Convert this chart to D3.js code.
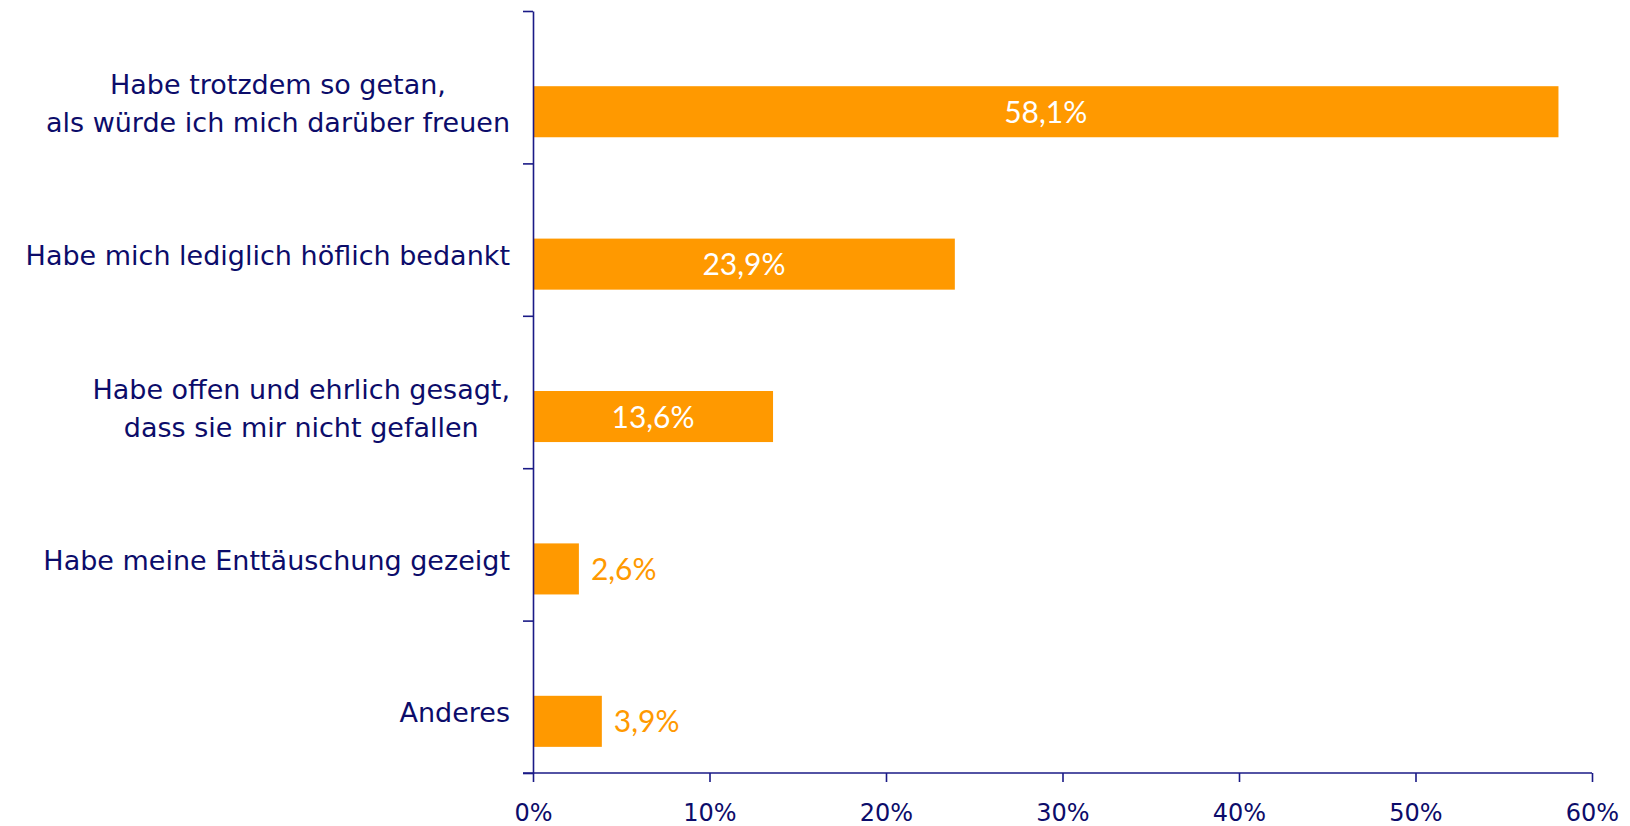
<!DOCTYPE html>
<html>
<head>
<meta charset="utf-8">
<script src="https://cdn.jsdelivr.net/npm/d3@7"></script>
<style>
  body { margin: 0; background: #fff; }
  svg text { font-family: "DejaVu Sans", sans-serif; }
</style>
</head>
<body>
<div id="chart"></div>
<script>
//Chart data
const categories = [
    ["Habe trotzdem so getan,", "als würde ich mich darüber freuen"],
    ["Habe mich lediglich höflich bedankt"],
    ["Habe offen und ehrlich gesagt,", "dass sie mir nicht gefallen"],
    ["Habe meine Enttäuschung gezeigt"],
    ["Anderes"]
];
const values = [58.1, 23.9, 13.6, 2.6, 3.9];
const xTicks = [0, 10, 20, 30, 40, 50, 60];

const navy = "#0c0c6a",
    axisCol = "#1a1a86",
    orange = "#ff9900";

//Set the dimensions and margins of the graph
const margin = {top: 11, right: 38, bottom: 53, left: 533},
    width = 1630 - margin.left - margin.right,
    height = 826 - margin.top - margin.bottom;

const svg = d3.select("#chart")
    .append("svg")
    .attr("width", 1630)
    .attr("height", 826)
    .append("g")
    .attr("transform", `translate(${margin.left}, ${margin.top})`);

//Scales
const x = d3.scaleLinear()
    .domain([0, 60])
    .range([0, width]);

const idx = d3.range(categories.length);
const y = d3.scaleBand()
    .domain(idx)
    .range([0, height]);

//band boundaries for the y axis ticks
const yb = d3.scaleLinear()
    .domain([0, categories.length])
    .range([0, height]);

//Bars sit in the lower half of each band
const barTop = i => y(i) + y.bandwidth() * 0.5 - 1;
const barH = y.bandwidth() * 0.335;

svg.selectAll(".bar")
    .data(values)
    .join("rect")
    .attr("class", "bar")
    .attr("x", x(0))
    .attr("y", (d, i) => barTop(i))
    .attr("width", d => x(d) - x(0))
    .attr("height", barH)
    .attr("fill", orange);

//Value labels
const fmt = d => d.toFixed(1).replace(".", ",") + "%";
svg.selectAll(".val")
    .data(values)
    .join("text")
    .attr("class", "val")
    .attr("x", d => d > 10 ? x(d) / 2 : x(d) + 12)
    .attr("y", (d, i) => barTop(i) + barH / 2 + 11)
    .attr("text-anchor", d => d > 10 ? "middle" : "start")
    .attr("font-size", "30px")
    .style("font-family", "Lato, 'Open Sans', sans-serif")
    .attr("fill", d => d > 10 ? "#fff" : orange)
    .text(fmt);

//Y axis
const yAxis = svg.append("g")
    .call(d3.axisLeft(yb).tickValues(d3.range(categories.length + 1)).tickFormat("").tickSize(10).tickSizeOuter(0));
yAxis.selectAll("line, path").attr("stroke", axisCol).attr("stroke-width", 1.6);

//X axis
const xAxis = svg.append("g")
    .attr("transform", `translate(0, ${height})`)
    .call(d3.axisBottom(x).tickValues(xTicks).tickFormat(d => d + "%").tickSize(9).tickSizeOuter(0));
xAxis.select(".domain").attr("d", `M-10,0H${width}`);
xAxis.selectAll("line, path").attr("stroke", axisCol).attr("stroke-width", 1.6);
xAxis.selectAll("text")
    .attr("y", 48)
    .attr("dy", 0)
    .attr("font-size", "24px")
    .attr("fill", navy)
    .style("font-family", "'DejaVu Sans', sans-serif");

//Category labels, centred lines, block right-aligned
const labRight = 510 - margin.left;
const lineH = 38;
categories.forEach((lines, i) => {
    const g = svg.append("g").attr("class", "cat");
    const cy = barTop(i) + barH / 2 - 9;
    const txt = g.selectAll("text")
        .data(lines)
        .join("text")
        .attr("y", (d, j) => cy + (j - (lines.length - 1) / 2) * lineH + 10)
        .attr("text-anchor", "middle")
        .attr("font-size", "27px")
        .attr("fill", navy)
        .text(d => d);
    let maxW = 0;
    txt.each(function() { maxW = Math.max(maxW, this.getComputedTextLength()); });
    txt.attr("x", labRight - maxW / 2);
});
</script>
</body>
</html>
